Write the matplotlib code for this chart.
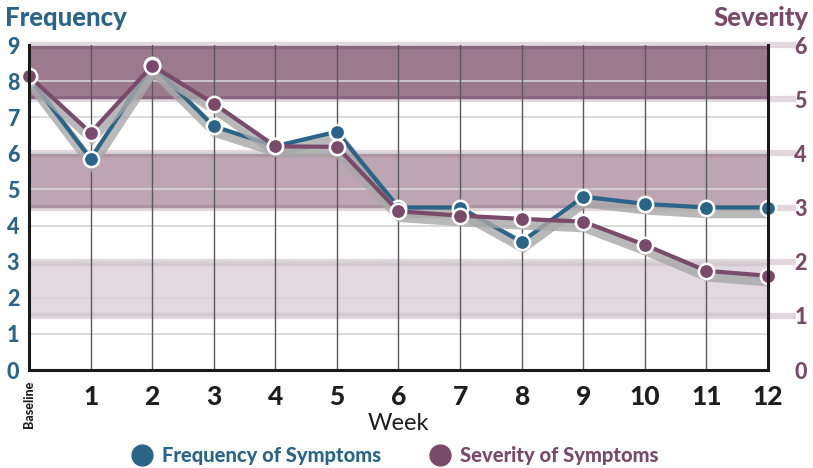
#!/usr/bin/env python3
"""Frequency / severity of symptoms over 12 weeks, dual axis line chart."""

import matplotlib
matplotlib.use("Agg")
import matplotlib.pyplot as plt
import matplotlib.patheffects as pe
from matplotlib.lines import Line2D

# ---- data ----
weeks = list(range(0, 13))
week_labels = ["1", "2", "3", "4", "5", "6", "7", "8", "9", "10", "11", "12"]
frequency = [8.1, 5.85, 8.45, 6.75, 6.2, 6.6, 4.5, 4.5, 3.55, 4.8, 4.6, 4.5, 4.5]
severity = [5.43, 4.38, 5.62, 4.92, 4.13, 4.12, 2.93, 2.85, 2.79, 2.74, 2.31, 1.83, 1.74]
freq_ticks = list(range(0, 10))
sev_ticks = list(range(0, 7))
# severity bands (low, high)
sev_bands = [(5, 6), (3, 4), (1, 2)]

PALETTE = {
    "blue": "#2A6489",
    "purple": "#7A4A6B",
    "bands": ["#9C7A8D", "#BEA5B3", "#E2D8DF"],
    "band_edges": ["#8B6680", "#AE93A3", "#D5C8D1"],
    "strip": "#DCCDD6",
    "grid_h": "#D4D4D4",
    "grid_v": "#5A5A5A",
    "shadow": "#A8A8A8",
    "text": "#1E1E1E",
}

plt.rcParams["font.family"] = ["Lato", "DejaVu Sans"]

fig = plt.figure(figsize=(8.13, 4.68), dpi=100)
ax = fig.add_axes([0.0357, 0.2094, 0.9089, 0.6944])
ax2 = ax.twinx()

ax.set_xlim(0, 12)
ax.set_ylim(0, 9)
ax2.set_ylim(0, 6)

# bands (drawn on severity axis)
for (lo, hi), fill, edge in zip(sev_bands, PALETTE["bands"], PALETTE["band_edges"]):
    ax2.axhspan(lo, hi, color=fill, lw=0, zorder=0)
    for v, off in ((lo, 0.035), (hi, -0.035)):
        ax2.plot([0, 12], [v + off, v + off], color=edge, lw=2.5, zorder=0.5,
                 solid_capstyle="butt")

# strips behind right tick labels
for v in sev_ticks[1:]:
    ax2.plot([0, 12.45], [v, v], color=PALETTE["strip"], lw=4.5, zorder=0.2,
             clip_on=False, solid_capstyle="butt", alpha=0.8)

# grid
for v in freq_ticks[1:]:
    ax.axhline(v, color=PALETTE["grid_h"], lw=1.2, zorder=1)
for w in weeks[1:-1]:
    ax.axvline(w, color=PALETTE["grid_v"], lw=1.0, zorder=1)

shadow = [pe.SimpleLineShadow(offset=(1, -4), shadow_color=PALETTE["shadow"],
                              alpha=0.8, linewidth=7.5), pe.Normal()]

ax.set_zorder(ax2.get_zorder() + 1)
ax.patch.set_visible(False)

ax.plot(weeks, frequency, color=PALETTE["blue"], lw=3, zorder=3,
        path_effects=shadow, solid_joinstyle="miter")
ax.plot(weeks, frequency, "o", color=PALETTE["blue"], ms=11, mec="white",
        mew=1.8, zorder=4, clip_on=False)

sev_in_freq = [s * 1.5 for s in severity]
ax.plot(weeks, sev_in_freq, color=PALETTE["purple"], lw=3, zorder=5,
        path_effects=shadow, solid_joinstyle="miter")
ax.plot(weeks, sev_in_freq, "o", color=PALETTE["purple"], ms=11, mec="white",
        mew=1.8, zorder=6, clip_on=False)

# spines
for a in (ax, ax2):
    for s in a.spines.values():
        s.set_visible(False)
for s in ("left", "bottom", "right"):
    ax.spines[s].set_visible(True)
    ax.spines[s].set_color("#1A1A1A")
    ax.spines[s].set_linewidth(2.2)
    ax.spines[s].set_zorder(7)

# ticks
ax.set_xticks(weeks[1:])
ax.set_xticklabels(week_labels, fontsize=19, fontweight="black", color=PALETTE["text"])
ax.tick_params(axis="x", length=0, pad=11)
ax.set_yticks(freq_ticks)
ax.set_yticklabels([str(t) for t in freq_ticks], fontsize=15.5, fontweight="black",
                   color=PALETTE["blue"])
ax.tick_params(axis="y", length=0, pad=7, right=False, labelright=False)
ax2.set_yticks(sev_ticks)
ax2.set_yticklabels([str(t) for t in sev_ticks], fontsize=15.5, fontweight="black",
                    color=PALETTE["purple"])
ax2.tick_params(axis="y", length=0, pad=19)

ax.text(0, -0.3, "Baseline", rotation=90, ha="center", va="top", fontsize=9,
        fontweight="black", color=PALETTE["text"])
ax.set_xlabel("Week", fontsize=17, color=PALETTE["text"], labelpad=3)

fig.text(0.006, 0.962, "Frequency", fontsize=18.5, fontweight="black",
         color=PALETTE["blue"], va="center", ha="left")
fig.text(0.994, 0.962, "Severity", fontsize=18.5, fontweight="black",
         color=PALETTE["purple"], va="center", ha="right")

handles = [
    Line2D([], [], marker="o", ls="", color=PALETTE["blue"], ms=15),
    Line2D([], [], marker="o", ls="", color=PALETTE["purple"], ms=15),
]
leg = fig.legend(handles, ["Frequency of Symptoms", "Severity of Symptoms"],
                 loc="center", bbox_to_anchor=(0.485, 0.026), ncol=2, frameon=False,
                 handletextpad=0.4, columnspacing=2.3, handlelength=1.2,
                 prop={"size": 14.5, "weight": "black"})
for t, c in zip(leg.get_texts(), (PALETTE["blue"], PALETTE["purple"])):
    t.set_color(c)

fig.savefig("out.png", dpi=100, facecolor="white")
